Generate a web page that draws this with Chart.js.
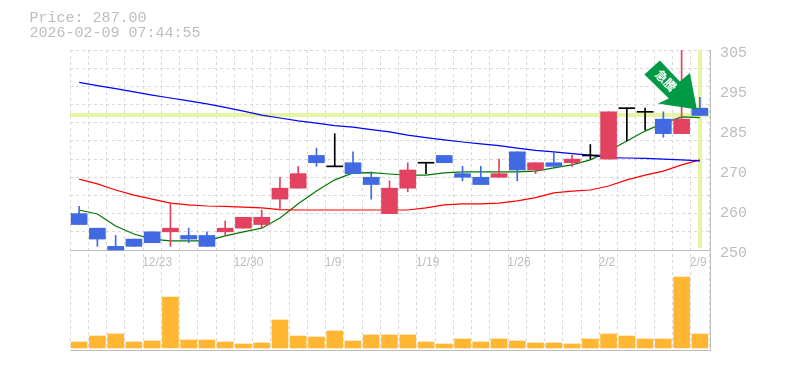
<!DOCTYPE html>
<html><head><meta charset="utf-8">
<style>
html,body{margin:0;padding:0;background:#fff;overflow:hidden}
#wrap{position:relative;width:785px;height:370px}
canvas{position:absolute;left:0;top:0}
</style>
<script src="https://cdn.jsdelivr.net/npm/chart.js@4/dist/chart.umd.min.js"></script>
</head><body>
<div id="wrap"><canvas id="c" width="785" height="370"></canvas></div>
<script>
const titleLines = ["Price: 287.00", "2026-02-09 07:44:55"];
const arrowText = "急騰";
const currentPrice = 287;
const dates = ["12/17","12/18","12/19","12/22","12/23","12/24","12/25","12/26","12/29","12/30","1/5","1/6","1/7","1/8","1/9","1/13","1/14","1/15","1/16","1/19","1/20","1/21","1/22","1/23","1/26","1/27","1/28","1/29","1/30","2/2","2/3","2/4","2/5","2/6","2/9"];
const shownDates = ["12/23","12/30","1/9","1/19","1/26","2/2","2/9"];
const priceTickLabels = ["250","260","270","285","295","305"];
const opens  = [260,256,251,253,255,255,254,254,255,256,257,264,267,276,273,274,270,260,267,274,276,271,270,270,277,272,274,274,276,275,289,288,286,282,289];
const closes = [257,253,250,251,252,256,253,251,256,259,259,267,271,274,273,271,268,267,272,274,274,270,268,271,272,274,273,275,276,288,289,288,282,286,287];
const highs  = [262,256,254,253,255,263,256,255,258,259,261,270,273,278,282,277,271.5,269,274,274,276,273,273,275,277,274,277,276,279,288,289,289,288,305,292];
const lows   = [257,251,250,251,252,251,252,251,254,256,256,261,267,273,273,271,264,260,266,271,274,269,268,270,269,271,273,273,275,275,280,283,281,282,287];
const maBlue = [296.1,295.2,294.4,293.5,292.6,291.8,291,290.2,289.2,288.2,287.1,286.3,285.5,284.9,284.2,283.8,283.1,282.5,281.6,280.9,280.3,279.7,279.2,278.7,278,277.4,277,276.5,276.1,275.4,275.3,275.2,275,274.8,274.5];
const maRed  = [269.5,268.2,266.5,265.1,264,262.9,262.4,262.1,262,261.8,261.6,261.1,261,261,261,261,261,261,261,261.6,262.4,262.7,262.7,262.9,263.5,264.4,265.7,266.2,266.5,267.6,269.3,270.6,271.7,273.4,274.8];
const maGreen= [261,259.9,256.6,254.4,253,252.5,252.5,252.5,253.9,255,256,258.8,262.7,266.2,269.3,271.2,271.3,270.9,270.6,270.6,271.2,271.5,271.5,271.5,271.5,271.7,272.6,273.4,274.8,277.2,280,282.7,284.9,286.6,286.4];
const volumes = [6,12,14,6,7,51,8,8,6,4,5,28,12,11,17,7,13,13,13,6,4,9,6,9,7,5,5,4,9,14,12,9,9,71,14];

const UP = "#E2415F", DOWN = "#4169E1", DOJI = "#000000";
const candleColor = i => opens[i] === closes[i] ? DOJI : (closes[i] > opens[i] ? UP : DOWN);
const bodies = dates.map((d, i) => opens[i] === closes[i] ? [opens[i] - 0.14, closes[i] + 0.14] : [opens[i], closes[i]]);
const wicks = dates.map((d, i) => [lows[i], highs[i]]);

const overlay = {
  id: "overlay",
  beforeDatasetsDraw(chart) {
    const { ctx, chartArea: a, scales } = chart;
    const yp = scales.y.getPixelForValue(currentPrice);
    const base = scales.y.getPixelForValue(250);
    const top = scales.y.getPixelForValue(305);
    const xl = scales.x.getPixelForValue(dates.length - 1);
    ctx.save();
    ctx.fillStyle = "#E4F5A6";
    ctx.fillRect(a.left, Math.round(yp) - 2, a.right - a.left, 4);
    ctx.fillRect(Math.round(xl) - 2, top, 4, base - top - 2);
    ctx.strokeStyle = "#BDBDBD";
    ctx.lineWidth = 1;
    ctx.beginPath();
    ctx.moveTo(a.left, Math.round(base) + 0.5); ctx.lineTo(a.right + 1, Math.round(base) + 0.5);
    ctx.moveTo(a.left, a.bottom + 0.5); ctx.lineTo(a.right + 2, a.bottom + 0.5);
    ctx.moveTo(a.right + 1.5, a.top); ctx.lineTo(a.right + 1.5, a.bottom);
    ctx.stroke();
    ctx.restore();
  },
  afterDatasetsDraw(chart) {
    const { ctx, scales } = chart;
    const tx = scales.x.getPixelForValue(dates.length - 1) - 3;
    const ty = scales.y.getPixelForValue(currentPrice) - 6;
    const pts = [[-37,-49],[-52.5,-35],[-28,-11],[-39,-6],[0,0],[-7,-36.5],[-17,-28]];
    ctx.save();
    ctx.fillStyle = "#009944";
    ctx.beginPath();
    pts.forEach((p, i) => i ? ctx.lineTo(tx + p[0], ty + p[1]) : ctx.moveTo(tx + p[0], ty + p[1]));
    ctx.closePath();
    ctx.fill();
    ctx.translate(tx - 31, ty - 29);
    ctx.rotate(Math.PI / 4);
    ctx.fillStyle = "#FFFFFF";
    ctx.font = "bold 12px 'Noto Sans CJK JP'";
    ctx.textAlign = "center";
    ctx.textBaseline = "middle";
    ctx.fillText(arrowText, 0, 0);
    ctx.restore();
  }
};

new Chart(document.getElementById("c"), {
  data: {
    labels: dates,
    datasets: [
      { type: "bar", label: "Volume", data: volumes, yAxisID: "v", backgroundColor: "#FFB733", barThickness: 16, grouped: false, order: 5 },
      { type: "line", label: "Long MA", data: maBlue, yAxisID: "y", borderColor: "#0000FF", borderWidth: 1.2, pointRadius: 0, tension: 0, order: 4 },
      { type: "line", label: "Mid MA", data: maRed, yAxisID: "y", borderColor: "#FF0000", borderWidth: 1.2, pointRadius: 0, tension: 0, order: 4 },
      { type: "line", label: "Short MA", data: maGreen, yAxisID: "y", borderColor: "#007700", borderWidth: 1.2, pointRadius: 0, tension: 0, order: 4 },
      { type: "bar", label: "Range", data: wicks, yAxisID: "y", backgroundColor: dates.map((d, i) => candleColor(i)), barThickness: 1, grouped: false, order: 3 },
      { type: "bar", label: "Body", data: bodies, yAxisID: "y", backgroundColor: dates.map((d, i) => candleColor(i)), barThickness: 16, grouped: false, order: 2 }
    ]
  },
  plugins: [overlay, {
    id: "titleText",
    afterDraw(chart) {
      const { ctx } = chart;
      ctx.save();
      ctx.fillStyle = "#BDBDBD";
      ctx.font = "15px 'Liberation Mono'";
      ctx.textBaseline = "middle";
      titleLines.forEach((t, i) => ctx.fillText(t, 29.5, 18 + i * 15));
      ctx.restore();
    }
  }],
  options: {
    responsive: false,
    animation: false,
    layout: { padding: { left: 70, right: 0, top: 50, bottom: 20 } },
    plugins: { legend: { display: false }, title: { display: false }, tooltip: { enabled: false } },
    scales: {
      x: {
        type: "category",
        offset: true,
        position: { y: 250 },
        grid: { display: true, color: "#D8D8D8", offset: true, drawTicks: false, lineWidth: 1 },
        border: { display: false, dash: [3, 3] },
        ticks: {
          autoSkip: false, maxRotation: 0, minRotation: 0, align: "start", padding: 5, labelOffset: -10,
          color: "#BDBDBD", font: { family: "'Liberation Sans'", size: 12 },
          callback(v) { const l = this.getLabelForValue(v); return shownDates.includes(l) ? l : ""; }
        }
      },
      y: {
        type: "linear", position: "left", min: 222.5, max: 305,
        afterBuildTicks(s) { const t = []; for (let p = 250; p <= 305; p += 5) t.push({ value: p }); s.ticks = t; },
        afterFit(s) { s.width = 0; },
        grid: { color: "#D8D8D8", drawTicks: false, lineWidth: 1 },
        border: { display: false, dash: [3, 3] },
        ticks: { display: false }
      },
      p: {
        type: "linear", position: "right", min: 222.5, max: 305,
        afterBuildTicks(s) { s.ticks = priceTickLabels.map((l, i) => ({ value: 250 + 11 * i, label: l })); },
        afterFit(s) { s.width = 76; },
        grid: { display: false, drawTicks: false },
        border: { display: false },
        ticks: {
          display: true, padding: 11, labelOffset: 3,
          color: "#BDBDBD", font: { family: "'Liberation Mono'", size: 15 },
          callback(v) { return priceTickLabels[Math.round((v - 250) / 11)]; }
        }
      },
      v: {
        type: "linear", position: "left", display: false, min: -2, max: 298
      }
    }
  }
});
</script>
</body></html>
